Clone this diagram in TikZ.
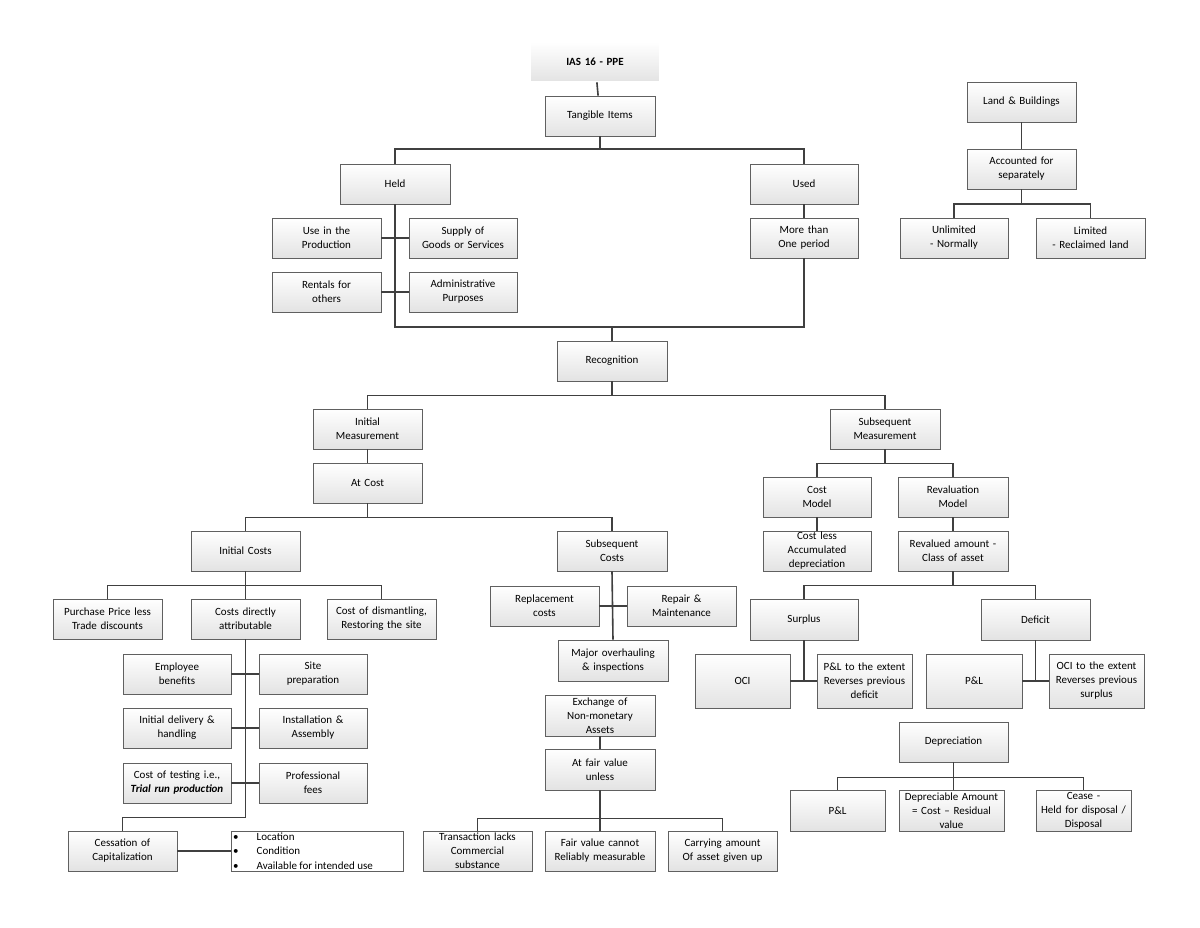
\documentclass[tikz,border=0pt]{standalone}
\usepackage{fontspec}
\setmainfont{Carlito}
\usetikzlibrary{shadows}
\definecolor{ln}{HTML}{404040}
\tikzset{
 box/.style={draw=gray!75!black,line width=0.6pt,top color=white,bottom color=gray!22,
   drop shadow={shadow xshift=1.2pt,shadow yshift=-1.2pt,opacity=0.35},
   align=center,inner sep=1pt,font=\fontsize{11}{14}\selectfont},
 con/.style={draw=ln,line width=1.6pt},
}
\newcommand\bx[7][]{\node[box,#1,minimum width={(#5-#3)*1pt},minimum height={(#6-#4)*1pt},text width={(#5-#3-4)*1pt}]
  (#2) at ({(#3+#5)/2*1pt},{-(#4+#6)/2*1pt}) {#7};}
\begin{document}
\begin{tikzpicture}
\useasboundingbox (0,0) rectangle (1200pt,-928pt);
\fill[white] (0,0) rectangle (1200pt,-928pt);
% top
\bx[double=white,double distance=1.5pt,draw=gray!60!black]{ias}{530}{42}{660}{82}{\textbf{IAS 16 - PPE}}
\bx{tang}{545}{96}{655}{136}{Tangible Items}
\bx{held}{340}{164}{450}{204}{Held}
\bx{used}{750}{164}{858}{204}{Used}
\bx{usep}{272}{218}{381}{258}{Use in the\\Production}
\bx{supp}{409}{218}{517}{258}{Supply of\\Goods or Services}
\bx{rent}{272}{272}{381}{312}{Rentals for\\others}
\bx{admin}{409}{272}{517}{312}{Administrative\\Purposes}
\bx{more}{750}{218}{858}{258}{More than\\One period}
\bx{recog}{557}{341}{667}{381}{Recognition}
% land
\bx{land}{967}{82}{1076}{122}{Land \& Buildings}
\bx{acc}{967}{149}{1076}{189}{Accounted for\\separately}
\bx{unl}{900}{218}{1008}{258}{Unlimited\\- Normally}
\bx{lim}{1036}{218}{1145}{258}{Limited\\- Reclaimed land}
% measurement
\bx{initm}{313}{409}{422}{449}{Initial\\Measurement}
\bx{subm}{830}{409}{940}{449}{Subsequent\\Measurement}
\bx{atcost}{313}{463}{422}{503}{At Cost}
\bx{initc}{191}{531}{300}{571}{Initial Costs}
\bx{subc}{557}{531}{667}{571}{Subsequent\\Costs}
\bx{purch}{53}{599}{162}{639}{Purchase Price less\\Trade discounts}
\bx{cda}{191}{599}{300}{639}{Costs directly\\attributable}
\bx{dism}{327}{599}{436}{639}{Cost of dismantling,\\Restoring the site}
\bx{emp}{123}{654}{231}{694}{Employee\\benefits}
\bx{site}{259}{654}{367}{694}{Site\\preparation}
\bx{deliv}{123}{708}{231}{748}{Initial delivery \&\\handling}
\bx{inst}{259}{708}{367}{748}{Installation \&\\Assembly}
\bx{test}{123}{763}{231}{803}{Cost of testing i.e.,\\\textbf{\textit{Trial run production}}}
\bx{prof}{259}{763}{367}{803}{Professional\\fees}
\bx{cess}{68}{831}{177}{871}{Cessation of\\Capitalization}
\node[draw=gray!75!black,line width=0.6pt,fill=white,minimum width=172pt,minimum height=40pt,inner sep=0pt] (bul) at (317pt,-851pt) {};
\node[anchor=west,align=left,inner sep=0pt,font=\fontsize{11}{14.5}\selectfont] (bult) at (233pt,-851pt)
  {\textbullet\hspace{18pt}Location\\\textbullet\hspace{18pt}Condition\\\textbullet\hspace{18pt}Available for intended use};
% subsequent costs
\bx{repl}{490}{586}{599}{626}{Replacement\\costs}
\bx{repair}{627}{586}{736}{626}{Repair \&\\Maintenance}
\bx{major}{558}{640}{668}{681}{Major overhauling\\\& inspections}
\bx{exch}{545}{695}{655}{736}{Exchange of\\Non-monetary\\Assets}
\bx{fair}{545}{749}{655}{790}{At fair value\\unless}
\bx{trans}{423}{831}{532}{871}{Transaction lacks\\Commercial\\substance}
\bx{fvc}{545}{831}{655}{871}{Fair value cannot\\Reliably measurable}
\bx{carry}{668}{831}{777}{871}{Carrying amount\\Of asset given up}
% subsequent measurement
\bx{costm}{763}{477}{871}{517}{Cost\\Model}
\bx{revm}{898}{477}{1008}{517}{Revaluation\\Model}
\bx{costl}{763}{531}{871}{571}{Cost less\\Accumulated\\depreciation}
\bx{reva}{898}{531}{1008}{571}{Revalued amount -\\Class of asset}
\bx{surp}{750}{599}{858}{640}{Surplus}
\bx{defi}{981}{599}{1090}{640}{Deficit}
\bx{oci}{695}{654}{790}{708}{OCI}
\bx{plx}{817}{654}{912}{708}{P\&L to the extent\\Reverses previous\\deficit}
\bx{pl}{926}{654}{1022}{708}{P\&L}
\bx{ocix}{1049}{654}{1144}{708}{OCI to the extent\\Reverses previous\\surplus}
\bx{dep}{899}{722}{1008}{762}{Depreciation}
\bx{pl2}{790}{790}{885}{831}{P\&L}
\bx{depam}{899}{790}{1004}{831}{Depreciable Amount\\= Cost -- Residual\\value}
\bx{cease}{1036}{790}{1131}{831}{Cease -\\Held for disposal /\\Disposal}
% connectors
\draw[con] (ias) -- (tang);
\draw[con] (tang.south) -- ++(0,-13pt) -| (held.north);
\draw[con] (tang.south) -- ++(0,-13pt) -| (used.north);
\draw[con] (used) -- (more);
\coordinate (hb) at (held.south |- 0,-327pt);
\draw[con] (held.south) -- (hb) -| (more.south);
\draw[con] (recog.north) -- (recog.north |- hb);
\draw[con] (usep) -- (supp);
\draw[con] (rent) -- (admin);
\draw[con] (land) -- (acc);
\draw[con] (acc.south) -- ++(0,-15pt) -| (unl.north);
\draw[con] (acc.south) -- ++(0,-15pt) -| (lim.north);
\draw[con] (recog.south) -- ++(0,-14pt) -| (initm.north);
\draw[con] (recog.south) -- ++(0,-14pt) -| (subm.north);
\draw[con] (initm) -- (atcost);
\draw[con] (atcost.south) -- ++(0,-14pt) -| (initc.north);
\draw[con] (atcost.south) -- ++(0,-14pt) -| (subc.north);
\draw[con] (initc.south) -- ++(0,-14pt) -| (purch.north);
\draw[con] (initc.south) -- (cda.north);
\draw[con] (initc.south) -- ++(0,-14pt) -| (dism.north);
\draw[con] (cda.south) -- ++(0,-178pt) -| (cess.north);
\draw[con] (emp) -- (site);
\draw[con] (deliv) -- (inst);
\draw[con] (test) -- (prof);
\draw[con] (cess) -- (bul);
\draw[con] (subc.south) -- (major.north);
\draw[con] (repl) -- (repair);
\draw[con] (exch) -- (fair);
\draw[con] (fair.south) -- ++(0,-28pt) -| (trans.north);
\draw[con] (fair.south) -- (fvc.north);
\draw[con] (fair.south) -- ++(0,-28pt) -| (carry.north);
\draw[con] (subm.south) -- ++(0,-14pt) -| (costm.north);
\draw[con] (subm.south) -- ++(0,-14pt) -| (revm.north);
\draw[con] (costm) -- (costl);
\draw[con] (revm) -- (reva);
\draw[con] (reva.south) -- ++(0,-14pt) -| (surp.north);
\draw[con] (reva.south) -- ++(0,-14pt) -| (defi.north);
\coordinate (sj) at (surp.south |- oci.east);
\draw[con] (surp.south) -- (sj);
\draw[con] (oci) -- (plx);
\coordinate (dj) at (defi.south |- pl.east);
\draw[con] (defi.south) -- (dj);
\draw[con] (pl) -- (ocix);
\draw[con] (dep.south) -- ++(0,-15pt) -| (pl2.north);
\draw[con] (dep.south) -- ++(0,-15pt) -| (cease.north);
\draw[con] (dep.south) -- (dep.south |- depam.north);
\end{tikzpicture}
\end{document}
